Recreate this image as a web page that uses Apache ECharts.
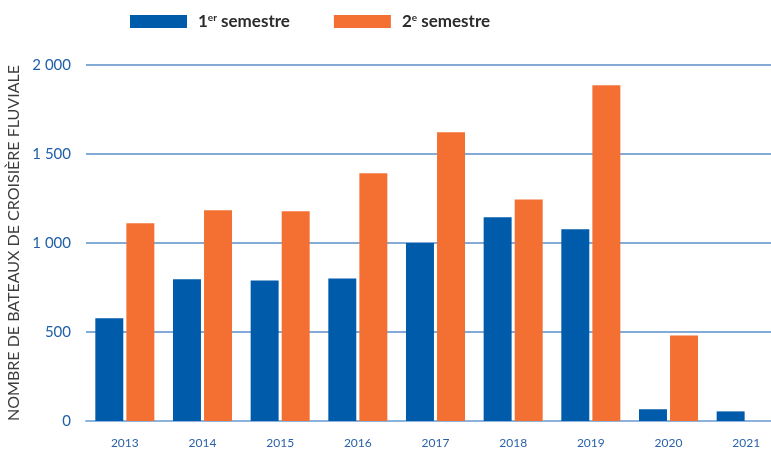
<!DOCTYPE html>
<html>
<head>
    <meta charset="utf-8">
    <title>Bateaux de croisière fluviale</title>
    <script src="https://cdn.jsdelivr.net/npm/echarts@6/dist/echarts.min.js"></script>
</head>
<body style="margin:0">
    <div id="main" style="width: 771px;height:450px;"></div>
    <script type="text/javascript">
var years = ['2013', '2014', '2015', '2016', '2017', '2018', '2019', '2020', '2021'];
var sem1 = [577, 796, 790, 801, 1000, 1144, 1077, 66, 54];
var sem2 = [1111, 1184, 1178, 1392, 1622, 1245, 1886, 481, null];
var yTicks = [0, 500, 1000, 1500, 2000];

var myChart = echarts.init(document.getElementById('main'));

var option = {
    backgroundColor: '#ffffff',
    animation: false,
    legend: {
        left: 125,
        top: 8,
        itemWidth: 57,
        itemHeight: 13,
        itemGap: 44,
        icon: 'rect',
        selectedMode: false,
        formatter: function (name) {
            if (name === 's1') return '1{sup|er} semestre';
            return '2{sup|e} semestre';
        },
        textStyle: {
            color: '#2b2b2b',
            fontFamily: 'Lato',
            fontWeight: 'bold',
            fontSize: 17,
            padding: [0, 0, 0, 6],
            rich: {
                sup: {
                    fontFamily: 'Lato',
                    fontWeight: 'bold',
                    fontSize: 10,
                    color: '#2b2b2b',
                    verticalAlign: 'top',
                    padding: [0, 0, 6, 0]
                }
            }
        },
        data: ['s1', 's2']
    },
    grid: {
        left: 86,
        width: 699,
        top: 65,
        bottom: 29,
        containLabel: false,
        outerBoundsMode: 'none'
    },
    xAxis: {
        type: 'category',
        data: years,
        axisTick: { show: false },
        axisLine: { lineStyle: { color: '#8db3dc', width: 2 } },
        axisLabel: {
            color: '#2a62aa',
            fontFamily: 'Lato',
            fontSize: 12,
            margin: 16
        }
    },
    yAxis: {
        type: 'value',
        min: 0,
        max: 2000,
        interval: 500,
        name: 'NOMBRE DE BATEAUX DE CROISIÈRE FLUVIALE',
        nameLocation: 'middle',
        nameGap: 55,
        nameRotate: 90,
        nameTextStyle: {
            color: '#3c3c3c',
            fontFamily: 'Lato',
            fontSize: 16
        },
        axisLabel: {
            color: '#1f5fa8',
            fontFamily: 'Lato',
            fontSize: 15,
            margin: 15,
            formatter: function (v) {
                return yTicks.indexOf(v) >= 0 ? String(v).replace(/\B(?=(\d{3})+(?!\d))/g, ' ') : '';
            }
        },
        splitLine: { lineStyle: { color: '#5b8fcb', width: 1.5 } },
        axisLine: { show: false },
        axisTick: { show: false }
    },
    series: [{
        name: 's1',
        type: 'bar',
        data: sem1,
        barGap: '11%',
        barCategoryGap: '24%',
        itemStyle: { color: '#005baa' }
    }, {
        name: 's2',
        type: 'bar',
        data: sem2,
        itemStyle: { color: '#f37032' }
    }]
};
myChart.setOption(option);
    </script>
</body>
</html>
